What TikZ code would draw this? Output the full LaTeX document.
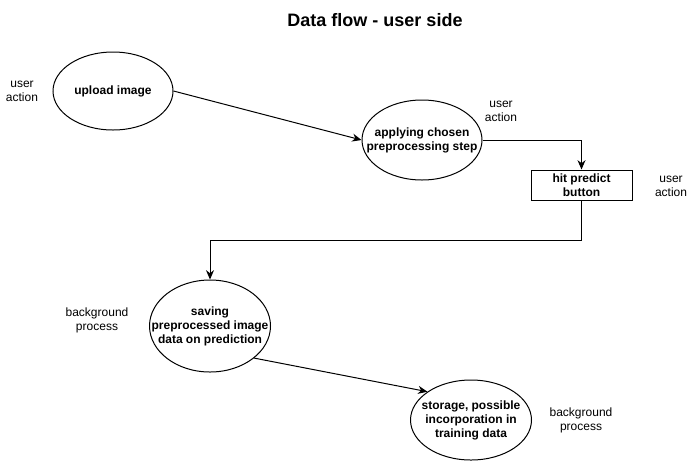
\documentclass[tikz,border=0pt]{standalone}
\usepackage{fontspec}
\setmainfont{Liberation Sans}
\usetikzlibrary{shapes.geometric,arrows.meta}
\begin{document}
\begin{tikzpicture}[x=0.75pt,y=-0.75pt,
  every path/.style={line width=0.75pt},
  proc/.style={draw,ellipse,inner sep=0pt},
  procbox/.style={draw,rectangle,inner sep=0pt,minimum width=101*0.75pt,minimum height=30*0.75pt,
    font=\fontsize{9pt}{10.5pt}\selectfont\bfseries,align=center},
  lbl/.style={font=\fontsize{9pt}{10.5pt}\selectfont\bfseries,align=center,inner sep=0pt},
  note/.style={font=\fontsize{9pt}{10.5pt}\selectfont,align=center,inner sep=0pt},
  arr/.style={-{Stealth[length=7pt,width=6pt]}}]
\useasboundingbox (0,0) rectangle (698,472);
\node[font=\fontsize{13.5pt}{16pt}\selectfont\bfseries] (title) at (375,20) {Data flow - user side};
\node[proc,minimum width=120*0.75pt,minimum height=78*0.75pt,
  label={[lbl]center:upload image}] (e1) at (113,91) {};
\node[proc,minimum width=120*0.75pt,minimum height=80*0.75pt,
  label={[lbl]center:applying chosen\\preprocessing step}] (e2) at (422,140) {};
\node[procbox] (box) at (581.5,185) {hit predict\\button};
\node[proc,minimum width=121*0.75pt,minimum height=92*0.75pt,
  label={[lbl]center:saving\\preprocessed image\\data on prediction}] (e3) at (210,326) {};
\node[proc,minimum width=121*0.75pt,minimum height=80*0.75pt,
  label={[lbl]center:storage, possible\\incorporation in\\training data}] (e4) at (471,420) {};
\node[note] (n1) at (22,91) {user\\action};
\node[note] (n2) at (501,111) {user\\action};
\node[note] (n3) at (671,186) {user\\action};
\node[note] (n4) at (97,320) {background\\process};
\node[note] (n5) at (581,420) {background\\process};
\draw[arr] (e1.east) -- (e2.west);
\draw[arr] (e2.east) -| (box.north);
\coordinate (bend) at (210,240);
\draw[arr] (box.south) |- (bend) -- (e3.north);
\draw[arr] (e3.-36) -- (e4.147);
\end{tikzpicture}
\end{document}
